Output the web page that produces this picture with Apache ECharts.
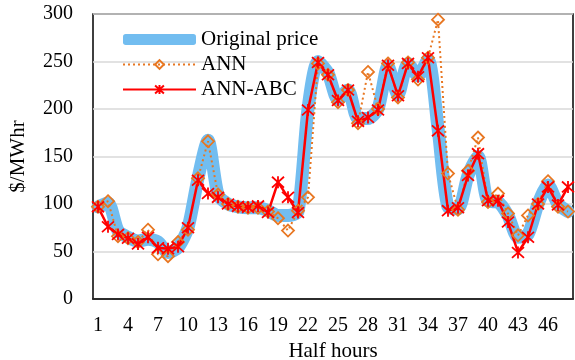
<!DOCTYPE html>
<html>
<head>
<meta charset="utf-8">
<script src="https://cdn.jsdelivr.net/npm/echarts@6/dist/echarts.min.js"></script>
<style>html,body{margin:0;padding:0;background:#fff}#c{width:575px;height:360px}</style>
</head>
<body>
<div id="c"></div>
<script>
var categories = [];
for (var i = 1; i <= 48; i++) categories.push(String(i));
var originalPrice = [97,101,72,65,61,63,60,49,54,75,127,167,110,100,97,96,96,93,88,88,92,200,250,238,210,220,190,190,200,245,215,248,235,252,180,97,95,130,150,103,102,88,65,68,100,120,100,92];
var annValues = [97,103,66,64,60,73,47,45,60,73,127,166,110,100,97,96,96,92,85,72,93,107,248,236,207,220,185,239,200,248,212,249,231,254,294,132,94,135,170,102,111,90,67,88,100,124,97,92];
var annAbcValues = [97,76,68,64,58,65,54,53,55,75,125,111,107,100,97.5,96.5,98,91,123,107,91,199,249,236,209,220,187,191,199,246,214,248,234,254,177,93,96,130,153,103.5,103.5,81,49,65,100,118,99,118];

var font = 'Liberation Serif';
var star = 'path://M5,0L5,10M0.5,0.5L9.5,9.5M0.5,9.5L9.5,0.5';
var chart = echarts.init(document.getElementById('c'));
chart.setOption({
  animation: false,
  textStyle: {fontFamily: font},
  grid: {left: 93, right: 2, top: 14, bottom: 61, show: true, borderColor: '#000', borderWidth: 1.5, backgroundColor: 'transparent', outerBoundsMode: 'none', containLabel: false},
  legend: {
    orient: 'vertical', left: 117, top: 24, itemWidth: 73, itemHeight: 11, itemGap: 4,
    textStyle: {fontFamily: font, fontSize: 21, color: '#000', lineHeight: 21},
    data: [
      {name: 'Original price', icon: 'roundRect', itemStyle: {color: '#72bdf0'}},
      {name: 'ANN'},
      {name: 'ANN-ABC'}
    ]
  },
  xAxis: {
    type: 'category', data: categories,
    name: 'Half hours', nameLocation: 'middle', nameGap: 38,
    nameTextStyle: {fontFamily: font, fontSize: 21, color: '#000'},
    axisLine: {show: true, lineStyle: {color: '#000', width: 1.5}},
    axisTick: {show: false},
    axisLabel: {interval: 2, fontFamily: font, fontSize: 20, color: '#000', margin: 17}
  },
  yAxis: {
    type: 'value', min: 0, max: 300, interval: 50,
    name: '$/MWhr', nameLocation: 'middle', nameGap: 64, nameRotate: 90,
    nameTextStyle: {fontFamily: font, fontSize: 21, color: '#000'},
    axisLine: {show: false}, axisTick: {show: false},
    axisLabel: {fontFamily: font, fontSize: 20, color: '#000', margin: 20},
    splitLine: {lineStyle: {color: '#d9d9d9', width: 1.5}}
  },
  series: [
    {
      name: 'Original price', type: 'line', data: originalPrice,
      symbol: 'none', smooth: 0.25,
      lineStyle: {color: '#72bdf0', width: 13, cap: 'round', join: 'round'},
      itemStyle: {color: '#72bdf0'}
    },
    {
      name: 'ANN', type: 'line', data: annValues,
      symbol: 'diamond', symbolSize: 12, showAllSymbol: true,
      lineStyle: {color: '#e87722', width: 2, type: [2, 3]},
      itemStyle: {color: 'rgba(255,255,255,0)', borderColor: '#e87722', borderWidth: 1.8}
    },
    {
      name: 'ANN-ABC', type: 'line', data: annAbcValues,
      symbol: star, symbolSize: 12, showAllSymbol: true,
      lineStyle: {color: '#ff0000', width: 2.5},
      itemStyle: {color: '#ff0000', borderColor: '#ff0000', borderWidth: 1.8}
    }
  ]
});
</script>
</body>
</html>
